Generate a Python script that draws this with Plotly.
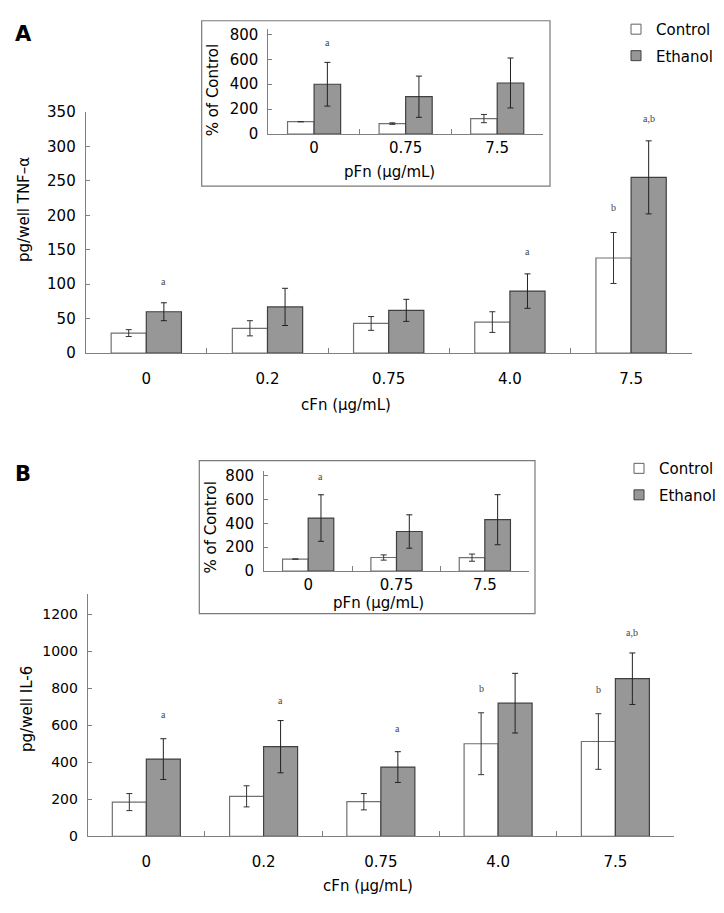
import plotly.graph_objects as go

W, H = 724, 913

# ---------------- data ----------------
cfn_cats = ["0", "0.2", "0.75", "4.0", "7.5"]
pfn_cats = ["0", "0.75", "7.5"]

# Panel A: TNF-alpha (pg/well)
tnf_control = [29, 36, 43, 45, 138]
tnf_control_err = [5, 11, 10, 15, 37]
tnf_ethanol = [60, 67, 62, 90, 255]
tnf_ethanol_err = [13, 27, 16, 25, 53]

# Panel A inset: % of control
tnf_pct_control = [100, 85, 125]
tnf_pct_control_err = [None, 6, 33]
tnf_pct_ethanol = [400, 300, 410]
tnf_pct_ethanol_err = [175, 165, 200]

# Panel B: IL-6 (pg/well)
il6_control = [185, 216, 187, 500, 512]
il6_control_err = [46, 57, 44, 167, 150]
il6_ethanol = [417, 484, 374, 719, 851]
il6_ethanol_err = [110, 141, 83, 161, 139]

# Panel B inset: % of control
il6_pct_control = [100, 113, 112]
il6_pct_control_err = [None, 22, 30]
il6_pct_ethanol = [444, 331, 430]
il6_pct_ethanol_err = [195, 140, 210]

# significance letters: (category, series, label, y)
tnf_sig = [("0", "e", "a", 104), ("4.0", "e", "a", 147), ("7.5", "c", "b", 211), ("7.5", "e", "a,b", 340)]
tnf_pct_sig = [("0", "e", "a", 735)]
il6_sig = [("0", "e", "a", 657), ("0.2", "e", "a", 734), ("0.75", "e", "a", 581),
           ("4.0", "c", "b", 799), ("7.5", "c", "b", 795), ("7.5", "e", "a,b", 1103)]
il6_pct_sig = [("0", "e", "a", 789)]

legend_names = ["Control", "Ethanol"]

# ---------------- styling ----------------
FONT = "DejaVu Sans"
AX = "#808080"
CTRL_FILL, CTRL_LINE = "#ffffff", "#707070"
ETH_FILL, ETH_LINE = "#979797", "#404040"
BARGAP = 0.42


def xd(a, b):
    return [a / W, b / W]


def yd(top, bottom):
    return [1 - bottom / H, 1 - top / H]


# subplot geometry in pixels: (x0, x1, y_top, y_zero, range_max)
geo = {
    "1": (85.7, 691.7, 105, 351, 350),
    "2": (268.3, 543, 20.7, 127.7, 840),
    "3": (87.7, 674, 597, 844, 1307),
    "4": (264, 529, 471.7, 573.3, 835),
}
cats_of = {"1": cfn_cats, "2": pfn_cats, "3": cfn_cats, "4": pfn_cats}

fig = go.Figure()


def add_bars(sub, cats, c, ce, e, ee):
    xa = "x" if sub == "1" else "x" + sub
    ya = "y" if sub == "1" else "y" + sub
    fig.add_trace(go.Bar(x=cats, y=c, xaxis=xa, yaxis=ya, name="Control", showlegend=False,
                         marker=dict(color=CTRL_FILL, line=dict(color=CTRL_LINE, width=1.2)),
                         error_y=dict(type="data", array=ce, color="#333333", thickness=1, width=3)))
    fig.add_trace(go.Bar(x=cats, y=e, xaxis=xa, yaxis=ya, name="Ethanol", showlegend=False,
                         marker=dict(color=ETH_FILL, line=dict(color=ETH_LINE, width=1.2)),
                         error_y=dict(type="data", array=ee, color="#222222", thickness=1, width=3)))


add_bars("1", cfn_cats, tnf_control, tnf_control_err, tnf_ethanol, tnf_ethanol_err)
add_bars("2", pfn_cats, tnf_pct_control, tnf_pct_control_err, tnf_pct_ethanol, tnf_pct_ethanol_err)
add_bars("3", cfn_cats, il6_control, il6_control_err, il6_ethanol, il6_ethanol_err)
add_bars("4", pfn_cats, il6_pct_control, il6_pct_control_err, il6_pct_ethanol, il6_pct_ethanol_err)

# legend entries (two legends), on a hidden helper axis
for lg in ("legend", "legend2"):
    fig.add_trace(go.Scatter(x=[None], y=[None], xaxis="x5", yaxis="y5",
                             mode="markers", name=legend_names[0], legend=lg, legendgroup="c" + lg,
                             marker=dict(symbol="square", size=10, color=CTRL_FILL,
                                         line=dict(color="#606060", width=1))))
    fig.add_trace(go.Scatter(x=[None], y=[None], xaxis="x5", yaxis="y5",
                             mode="markers", name=legend_names[1], legend=lg, legendgroup="e" + lg,
                             marker=dict(symbol="square", size=10, color=ETH_FILL,
                                         line=dict(color="#404040", width=1))))

layout = dict(
    width=W, height=H, autosize=False,
    margin=dict(l=0, r=0, t=0, b=0),
    paper_bgcolor="white", plot_bgcolor="rgba(0,0,0,0)",
    barmode="group", bargap=BARGAP, bargroupgap=0,
    font=dict(family=FONT, size=15, color="#000"),
    showlegend=True,
    xaxis5=dict(visible=False, domain=[0, 0.01], anchor="y5"),
    yaxis5=dict(visible=False, domain=[0, 0.01], anchor="x5"),
)

for sub, (x0, x1, ytop, yzero, rmax) in geo.items():
    xn = "xaxis" if sub == "1" else "xaxis" + sub
    yn = "yaxis" if sub == "1" else "yaxis" + sub
    anchor_y = "y" if sub == "1" else "y" + sub
    anchor_x = "x" if sub == "1" else "x" + sub
    inset = sub in ("2", "4")
    cats = cats_of[sub]
    layout[xn] = dict(domain=xd(x0, x1), anchor=anchor_y, type="category",
                      categoryorder="array", categoryarray=cats, range=[-0.5, len(cats) - 0.5],
                      showline=True, linecolor=AX, linewidth=1, showgrid=False, zeroline=False,
                      ticks="inside", tickson="boundaries", ticklen=5, tickcolor=AX,
                      tickfont=dict(family=FONT, size=15, color="#000"),
                      ticklabelstandoff=0 if inset else 12, fixedrange=True)
    layout[yn] = dict(domain=yd(ytop, yzero), anchor=anchor_x, range=[0, rmax],
                      dtick=200 if sub != "1" else 50, tick0=0,
                      showline=True, linecolor=AX, linewidth=1, showgrid=False, zeroline=False,
                      ticks="inside", ticklen=4, tickcolor=AX,
                      tickfont=dict(family=FONT, size=14 if sub == "3" else 15, color="#000"),
                      ticklabelstandoff=6, fixedrange=True)

layout["legend"] = dict(x=616 / W, y=1 - 4 / H, xanchor="left", yanchor="top",
                        font=dict(family=FONT, size=15, color="#000"), bgcolor="rgba(0,0,0,0)",
                        tracegroupgap=4, itemwidth=30)
layout["legend2"] = dict(x=619 / W, y=1 - 452 / H, xanchor="left", yanchor="top",
                         font=dict(family=FONT, size=15, color="#000"), bgcolor="rgba(0,0,0,0)",
                         tracegroupgap=4, itemwidth=30)

# inset frames
layout["shapes"] = [
    dict(type="rect", xref="paper", yref="paper", x0=201.7 / W, x1=550 / W,
         y0=1 - 180.7 / H, y1=1 - 12 / H, line=dict(color="#7a7a7a", width=1.2), layer="below"),
    dict(type="rect", xref="paper", yref="paper", x0=199.3 / W, x1=535 / W,
         y0=1 - 616.7 / H, y1=1 - 460.7 / H, line=dict(color="#7a7a7a", width=1.2), layer="below"),
]

ann = []


def paper_text(text, px, py, size=15, angle=0, bold=False):
    ann.append(dict(text=("<b>%s</b>" % text) if bold else text, xref="paper", yref="paper",
                    x=px / W, y=1 - py / H, xanchor="center", yanchor="middle",
                    showarrow=False, textangle=angle,
                    font=dict(family=FONT, size=size, color="#000")))


paper_text("A", 23, 26, size=21, bold=True)
paper_text("B", 23, 474, size=21, bold=True)
paper_text("cFn (μg/mL)", 346, 404)
paper_text("pg/well TNF–α", 24, 205, angle=-90)
paper_text("% of Control", 213, 83, angle=-90)
paper_text("pFn (μg/mL)", 389, 166)
paper_text("cFn (μg/mL)", 368, 895)
paper_text("pg/well IL-6", 27, 714, angle=-90)
paper_text("% of Control", 211, 529, angle=-90)
paper_text("pFn (μg/mL)", 378, 606)


def sig_letters(sub, sig):
    cats = cats_of[sub]
    x0, x1 = geo[sub][0], geo[sub][1]
    cat_w = (x1 - x0) / len(cats)
    bar_w = cat_w * (1 - BARGAP) / 2
    xr = "x" if sub == "1" else "x" + sub
    yr = "y" if sub == "1" else "y" + sub
    for cat, ser, lab, yv in sig:
        ann.append(dict(text=lab, xref=xr, yref=yr, x=cats.index(cat), y=yv,
                        xshift=(bar_w / 2) * (1 if ser == "e" else -1),
                        showarrow=False, xanchor="center", yanchor="middle",
                        font=dict(family="Liberation Serif", size=10, color="#444444")))


sig_letters("1", tnf_sig)
sig_letters("2", tnf_pct_sig)
sig_letters("3", il6_sig)
sig_letters("4", il6_pct_sig)

layout["annotations"] = ann
fig.update_layout(**layout)
fig.write_html("out.html", config={"displayModeBar": False},
               post_script="document.body.style.margin='0';")
